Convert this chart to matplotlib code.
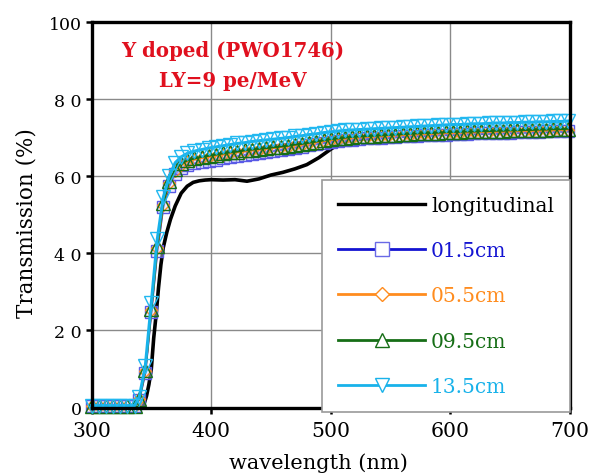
import matplotlib
matplotlib.use("Agg")
import matplotlib.pyplot as plt
import matplotlib.transforms as mtransforms
from matplotlib.lines import Line2D

# ---------------- data ----------------
wl = [300, 306, 312, 318, 324, 330, 336,
      340, 345, 350, 355, 360, 365, 370, 375, 380,
      386, 392, 398, 404, 410, 416, 422, 428, 434, 440, 446, 452, 458, 464,
      470, 476, 482, 488, 494, 500, 506, 512, 518, 524, 530, 536, 542, 548,
      554, 560, 566, 572, 578, 584, 590, 596, 602, 608, 614, 620, 626, 632,
      638, 644, 650, 656, 662, 668, 674, 680, 686, 692, 698]

t_015 = [0.3, 0.3, 0.3, 0.3, 0.3, 0.3, 0.3,
         2.0, 9.0, 24.7, 40.6, 52.0, 57.5, 60.5, 62.0, 62.8,
         63.3, 63.7, 64.0, 64.3, 64.6, 64.9, 65.2, 65.5, 65.7, 66.0, 66.2, 66.5, 66.8, 67.1,
         67.4, 67.7, 68.0, 68.3, 68.6, 68.9, 69.1, 69.3, 69.5, 69.6, 69.8, 69.9, 70.0, 70.1,
         70.2, 70.3, 70.4, 70.5, 70.6, 70.6, 70.7, 70.8, 70.9, 70.9, 71.0, 71.1, 71.1, 71.2,
         71.2, 71.3, 71.3, 71.4, 71.4, 71.5, 71.5, 71.6, 71.6, 71.7, 71.7]

t_055 = [0.3, 0.3, 0.3, 0.3, 0.3, 0.3, 0.3,
         2.2, 9.5, 25.2, 41.3, 52.6, 58.3, 61.4, 63.0, 63.8,
         64.3, 64.7, 65.0, 65.3, 65.6, 65.9, 66.2, 66.4, 66.7, 66.9, 67.1, 67.3, 67.5, 67.7,
         68.0, 68.2, 68.5, 68.8, 69.1, 69.4, 69.6, 69.8, 70.0, 70.1, 70.2, 70.3, 70.4, 70.5,
         70.6, 70.7, 70.8, 70.9, 71.0, 71.0, 71.1, 71.2, 71.3, 71.3, 71.4, 71.4, 71.5, 71.5,
         71.6, 71.6, 71.7, 71.7, 71.8, 71.8, 71.9, 71.9, 72.0, 72.0, 72.1]

t_095 = [0.3, 0.3, 0.3, 0.3, 0.3, 0.3, 0.3,
         2.3, 9.8, 25.5, 41.8, 53.0, 58.8, 61.8, 63.3, 64.1,
         64.6, 65.0, 65.3, 65.6, 65.9, 66.2, 66.4, 66.7, 66.9, 67.1, 67.3, 67.5, 67.7, 67.9,
         68.2, 68.4, 68.7, 69.0, 69.3, 69.6, 69.8, 70.0, 70.2, 70.3, 70.4, 70.5, 70.6, 70.7,
         70.8, 70.9, 71.0, 71.1, 71.2, 71.2, 71.3, 71.4, 71.5, 71.5, 71.6, 71.6, 71.7, 71.7,
         71.8, 71.8, 71.9, 71.9, 72.0, 72.0, 72.1, 72.1, 72.2, 72.2, 72.3]

t_135 = [0.5, 0.5, 0.5, 0.5, 0.5, 0.5, 0.5,
         2.8, 10.8, 27.2, 43.7, 54.5, 60.0, 63.5, 65.0, 65.9,
         66.5, 66.9, 67.3, 67.6, 67.9, 68.2, 68.5, 68.7, 69.0, 69.2, 69.4, 69.6, 69.8, 70.0,
         70.3, 70.5, 70.8, 71.0, 71.3, 71.5, 71.7, 71.9, 72.0, 72.1, 72.2, 72.3, 72.4, 72.5,
         72.6, 72.7, 72.8, 72.9, 73.0, 73.1, 73.2, 73.3, 73.4, 73.4, 73.5, 73.6, 73.6, 73.7,
         73.8, 73.8, 73.9, 73.9, 74.0, 74.0, 74.1, 74.1, 74.2, 74.2, 74.3]

long_wl = [300, 343, 346, 348, 350, 352, 354, 356, 358, 360, 363, 366, 370, 375, 380,
           385, 390, 395, 400, 410, 420, 430, 440, 450, 460, 470, 480, 490, 500,
           505, 510, 520, 540, 560, 580, 600, 620, 640, 660, 680, 700]
long_t = [0.0, 0.0, 3.0, 6.0, 10.0, 18.0, 24.0, 31.0, 37.0, 41.5, 45.5, 48.8, 52.3, 55.6, 57.4,
          58.4, 58.8, 59.0, 59.1, 59.0, 59.1, 58.7, 59.3, 60.3, 61.0, 61.9, 63.0, 64.8, 67.0,
          68.0, 68.8, 69.4, 70.0, 70.4, 70.7, 70.9, 71.1, 71.3, 71.5, 71.7, 71.8]

series_names = ["longitudinal", "01.5cm", "05.5cm", "09.5cm", "13.5cm"]
xticks = [300, 400, 500, 600, 700]
yticks = [0, 20, 40, 60, 80, 100]
ytick_labels = ["0", "2 0", "4 0", "6 0", "8 0", "100"]
title_lines = ["Y doped (PWO1746)", "LY=9 pe/MeV"]

# ---------------- figure ----------------
W, H = 591, 477
fig = plt.figure(figsize=(W / 100, H / 100), dpi=100)
L, R, T, B = 91.5, 570.0, 23.0, 408.5
ax = fig.add_axes([L / W, 1 - B / H, (R - L) / W, (B - T) / H])
serif = "DejaVu Serif"

c_blue = "#1414d2"
c_orange = "#ff8c1e"
c_green = "#166e16"
c_cyan = "#18b2ea"

ax.plot(long_wl, long_t, color="black", lw=2.6, zorder=3, solid_capstyle="butt")
ax.plot(wl, t_015, color=c_blue, lw=1.5, marker="s", ms=9.2,
        mec="#5a5ae6", mfc=(0.85, 0.85, 1.0, 0.45), mew=1.0, zorder=4, clip_on=False)
ax.plot(wl, t_055, color=c_orange, lw=1.5, marker="D", ms=6.5,
        mec=c_orange, mfc="none", mew=1.0, zorder=5, clip_on=False)
ax.plot(wl, t_095, color=c_green, lw=1.5, marker="^", ms=9.5,
        mec=c_green, mfc="none", mew=1.0, zorder=6, clip_on=False)
ax.plot(wl, t_135, color=c_cyan, lw=2.2, marker="v", ms=10.5,
        mec="#22b8f0", mfc="none", mew=1.0, zorder=7, clip_on=False)

ax.set_xlim(300, 700)
ax.set_ylim(0, 100)
ax.set_xticks(xticks)
ax.set_yticks(yticks)
ax.set_yticklabels(ytick_labels, fontfamily=serif, fontsize=12.5)
ax.set_xticklabels([str(v) for v in xticks], fontfamily=serif, fontsize=14.7)
offset = mtransforms.ScaledTranslation(-8 / 100, 0, fig.dpi_scale_trans)
for lab in ax.get_xticklabels():
    lab.set_transform(lab.get_transform() + offset)

ax.tick_params(axis="both", direction="out", length=4, width=1.8, color="black")
ax.tick_params(axis="x", pad=6)
ax.tick_params(axis="y", pad=3)
for s in ax.spines.values():
    s.set_linewidth(2.4)
    s.set_color("black")
    s.set_zorder(8)

ax.grid(True, color="#8a8a8a", lw=1.0, zorder=0)
ax.set_axisbelow(True)

ax.set_xlabel("wavelength (nm)", fontfamily=serif, fontsize=15)
ax.xaxis.set_label_coords((318.5 - L) / (R - L), -(463 - B) / (B - T))
ax.xaxis.label.set_va("center")
ax.set_ylabel("Transmission (%)", fontfamily=serif, fontsize=15.5)
ax.yaxis.set_label_coords(-(L - 27) / (R - L), (B - 223) / (B - T))
ax.yaxis.label.set_va("center")

# title text
fig.text(233 / W, 1 - 57 / H, title_lines[0], ha="center", va="baseline",
         fontfamily=serif, fontweight="bold", fontsize=14.2, color="#e0101e")
fig.text(233 / W, 1 - 87 / H, title_lines[1], ha="center", va="baseline",
         fontfamily=serif, fontweight="bold", fontsize=14.2, color="#e0101e")

# legend
handles = [
    Line2D([], [], color="black", lw=2.4),
    Line2D([], [], color=c_blue, lw=2.0, marker="s", ms=10.5, mec="#6a6ae6", mfc="white", mew=1.0),
    Line2D([], [], color=c_orange, lw=2.0, marker="D", ms=7.5, mec=c_orange, mfc="white", mew=1.0),
    Line2D([], [], color=c_green, lw=2.0, marker="^", ms=10, mec=c_green, mfc="white", mew=1.0),
    Line2D([], [], color=c_cyan, lw=2.0, marker="v", ms=10, mec=c_cyan, mfc="white", mew=1.0),
]
leg = ax.legend(handles, series_names, loc="upper right",
                bbox_to_anchor=(1.0, (B - 181) / (B - T)), borderaxespad=0,
                prop={"family": serif, "size": 14.5}, labelcolor="linecolor",
                handlelength=4.3, handletextpad=0.3, labelspacing=1.3,
                borderpad=0.8, fancybox=False, framealpha=1, edgecolor="#9a9a9a")
leg.get_frame().set_linewidth(1.2)
leg.set_zorder(20)

fig.savefig("out.png", dpi=100)
